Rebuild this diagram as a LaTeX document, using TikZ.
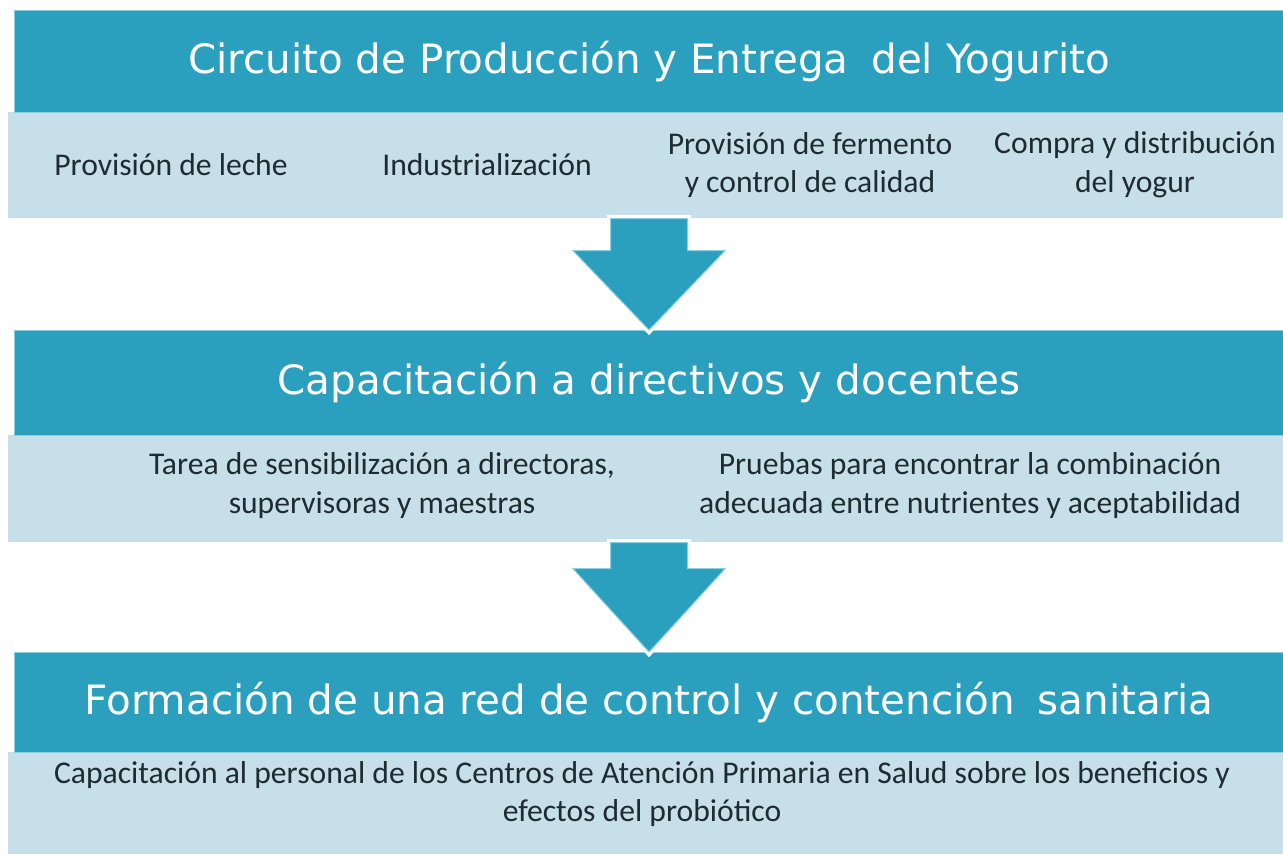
\documentclass[tikz,border=0pt]{standalone}
\usepackage{xcolor}
\usepackage{fontspec}
\usepackage{tikz}
\usetikzlibrary{positioning,calc}
\setmainfont{Carlito}
\newfontfamily\headfont{DejaVu Sans}
\definecolor{tealhead}{HTML}{2A9FBE}
\definecolor{bandblue}{HTML}{C6DFE8}
\definecolor{textdark}{HTML}{1E2B30}
\definecolor{edgeblue}{HTML}{8ACFE0}

\begin{document}
\begin{tikzpicture}[
    header/.style={anchor=north west,fill=tealhead,draw=edgeblue,line width=0.6pt,
      inner sep=0pt,text=white,font=\headfont\fontsize{23}{27}\selectfont},
    band/.style={anchor=north west,fill=bandblue,inner sep=0pt},
    item/.style={align=center,text=textdark,font=\fontsize{18}{22}\selectfont},
    flow/.style={fill=tealhead,draw=edgeblue,line width=0.6pt,
      preaction={draw=white,line width=4pt}}
  ]
  \useasboundingbox[fill=white] (0,0) rectangle (25.66,17.08);

  % Circuito de produccion
  \node[band,minimum width=25.5cm,minimum height=2.12cm] (band1) at (0.16,14.84) {};
  \node[header,minimum width=25.38cm,minimum height=2.04cm] (head1) at (0.28,16.88)
    {Circuito de Producción y Entrega\hspace{0.25em} del Yogurito};
  \node[item] (leche) at (3.42,13.78) {Provisión de leche};
  \node[item] (indus) at (9.74,13.78) {Industrialización};
  \node[item] (ferm) at (16.2,13.78) {Provisión de fermento\\y control de calidad};
  \node[item] (compra) at (22.7,13.78) {Compra y distribución\\del yogur};

  % Capacitacion
  \node[band,minimum width=25.5cm,minimum height=2.14cm] (band2) at (0.16,8.38) {};
  \node[header,minimum width=25.38cm,minimum height=2.1cm] (head2) at (0.28,10.48)
    {Capacitación a directivos y docentes};
  \node[item] (tarea) at (7.64,7.37) {Tarea de sensibilización a directoras,\\supervisoras y maestras};
  \node[item] (pruebas) at (19.4,7.37) {Pruebas para encontrar la combinación\\adecuada entre nutrientes y aceptabilidad};

  % Red sanitaria
  \node[band,minimum width=25.5cm,minimum height=2.04cm] (band3) at (0.16,2.04) {};
  \node[header,minimum width=25.38cm,minimum height=2.0cm] (head3) at (0.28,4.04)
    {Formación de una red de control y contención\hspace{0.25em} sanitaria};
  \node[item] (caps) at (12.84,1.2) {Capacitación al personal de los Centros de Atención Primaria en Salud sobre los beneficios y\\efectos del probiótico};

  % Arrows between blocks
  \coordinate (t1) at (band1.south -| head2.north);
  \draw[flow] ($(t1)+(-0.77,0)$) -- ($(t1)+(0.77,0)$) -- ($(t1)+(0.77,-0.64)$)
    -- ($(t1)+(1.52,-0.64)$) -- (head2.north) -- ($(t1)+(-1.52,-0.64)$)
    -- ($(t1)+(-0.77,-0.64)$) -- cycle;
  \coordinate (t2) at (band2.south -| head3.north);
  \draw[flow] ($(t2)+(-0.77,0)$) -- ($(t2)+(0.77,0)$) -- ($(t2)+(0.77,-0.52)$)
    -- ($(t2)+(1.52,-0.52)$) -- (head3.north) -- ($(t2)+(-1.52,-0.52)$)
    -- ($(t2)+(-0.77,-0.52)$) -- cycle;
\end{tikzpicture}
\end{document}
